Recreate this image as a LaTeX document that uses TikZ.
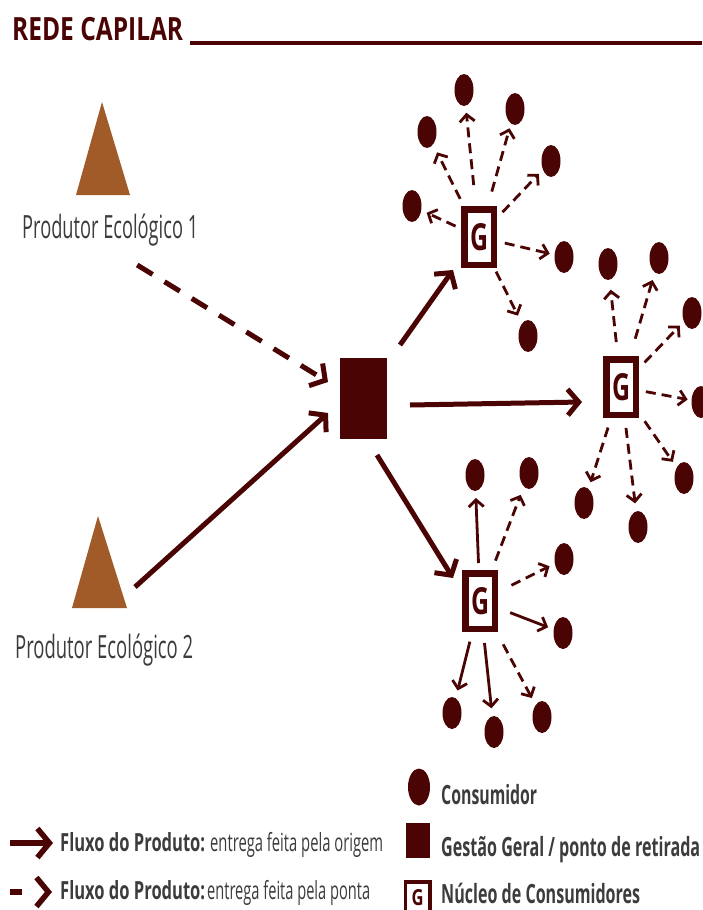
\documentclass[tikz,border=0pt]{standalone}
\usepackage{fontspec}
\usepackage{graphicx}
\setmainfont{Open Sans}
\usetikzlibrary{arrows.meta,shapes.geometric}
\definecolor{capred}{HTML}{4A0404}
\definecolor{prodbrown}{HTML}{A15B28}
\definecolor{labgray}{HTML}{3C3C3C}
% squeeze a text horizontally to a given width (in pt), keeping its height
\newcommand\fitw[2]{\resizebox{#1pt}{\height}{#2}}

\begin{document}
\begin{tikzpicture}[x=1pt,y=-1pt,
  consumer/.style={ellipse, fill=capred, minimum width=19pt, minimum height=32pt, inner sep=0pt, outer sep=0pt},
  gbox/.style={draw=capred, line width=6.5pt, fill=white, minimum width=29.5pt, minimum height=55.5pt, inner sep=0pt, text=capred},
  hubbox/.style={fill=capred, minimum width=47pt, minimum height=81pt, inner sep=0pt, outer sep=0pt},
  producer/.style={fill=prodbrown},
  flow/.style={draw=capred, line width=5pt, -{Straight Barb[length=11pt,width=26pt]}},
  flowdash/.style={flow, dash pattern=on 18pt off 14pt},
  feed/.style={draw=capred, line width=2.8pt, -{Straight Barb[length=7pt,width=15pt]}},
  feeddash/.style={feed, dash pattern=on 10pt off 6pt},
  prodlabel/.style={anchor=base west, inner sep=0pt, text=labgray, font=\fontsize{32}{36}\selectfont},
  legtext/.style={anchor=base west, inner sep=0pt, text=labgray, font=\fontsize{25}{29}\selectfont},
  legbold/.style={legtext, font=\fontsize{25}{29}\selectfont\bfseries},
  keybold/.style={legtext, font=\fontsize{26.5}{30}\selectfont\bfseries},
  legflow/.style={draw=capred, line width=5.5pt, -{Straight Barb[length=12pt,width=29pt]}},
]
\useasboundingbox (0,0) rectangle (702,910);
\fill[white] (0,0) rectangle (702,910);

% title and rule
\node[anchor=base west, inner sep=0pt, text=capred, font=\fontsize{32}{36}\selectfont\bfseries] (title) at (12,40) {\fitw{171}{REDE CAPILAR}};
\coordinate (ruleend) at (702,42.5);
\draw[capred, line width=4pt] ([shift={(7,2.5)}]title.base east) -- (ruleend);

% producers
\fill[producer] (102,102) -- (130,195) -- (76,195) -- cycle;
\node[prodlabel] (lab1) at (22,238) {\fitw{176}{Produtor Ecológico 1}};
\coordinate (tri2) at (127,608);
\fill[producer] (98,516) -- (tri2) -- (72,608) -- cycle;
\node[prodlabel] (lab2) at (15,658) {\fitw{178}{Produtor Ecológico 2}};

% central management point
\node[hubbox] (hub) at (363.5,398.5) {};

% consumer groups
\node[gbox] (g1) at (479,237) {\resizebox{18pt}{27pt}{\bfseries G}};
\node[gbox] (g2) at (621,387) {\resizebox{18pt}{27pt}{\bfseries G}};
\node[gbox] (g3) at (480,601) {\resizebox{18pt}{27pt}{\bfseries G}};

% consumers around group 1
\node[consumer] (c1) at (464,90) {};
\node[consumer] (c2) at (515,109) {};
\node[consumer] (c3) at (427,132) {};
\node[consumer] (c4) at (551,161) {};
\node[consumer] (c5) at (412,206) {};
\node[consumer] (c6) at (564,257) {};
\node[consumer] (c7) at (528,336) {};

% consumers around group 2
\node[consumer] (ca) at (608,264) {};
\node[consumer] (cb) at (659,258) {};
\node[consumer] (cc) at (692,313) {};
\node[consumer] (cd) at (701,402) {};
\node[consumer] (ce) at (684,478) {};
\node[consumer] (cf) at (584,503) {};
\node[consumer] (cg) at (638,527) {};

% consumers around group 3
\node[consumer] (cp) at (475,475) {};
\node[consumer] (cq) at (529,473) {};
\node[consumer] (cs) at (564,559) {};
\node[consumer] (ct) at (563,633) {};
\node[consumer] (cu) at (452,713) {};
\node[consumer] (cv) at (494,732) {};
\node[consumer] (cw) at (542,717) {};

% producers to the management point
\draw[flowdash] ([shift={(27,27)}]lab1.base) -- ([shift={(-12,-16.5)}]hub.west);
\draw[flow] ([shift={(8,-21)}]tri2) -- ([shift={(-12,14.5)}]hub.west);

% management point to the groups
\draw[flow] ([shift={(13,-13)}]hub.north east) -- ([shift={(-8,2)}]g1.south west);
\draw[flow] ([shift={(23,6.5)}]hub.east) -- ([shift={(-21,15)}]g2.west);
\draw[flow] ([shift={(-10,16)}]hub.south east) -- ([shift={(-9,8)}]g3.north west);

% group 1 deliveries
\draw[feeddash, shorten <=21pt, shorten >=7pt] (g1) -- (c1);
\draw[feeddash, shorten <=15pt, shorten >=5pt] (g1) -- (c2);
\draw[feeddash, shorten <=8pt, shorten >=9pt] (g1) -- (c3);
\draw[feeddash, shorten <=8pt, shorten >=6pt] (g1) -- (c4);
\draw[feeddash, shorten <=6pt, shorten >=6pt] (g1) -- (c5);
\draw[feeddash, shorten <=8pt, shorten >=5pt] (g1) -- (c6);
\draw[feeddash, shorten <=4pt, shorten >=9pt] (g1) -- (c7);

% group 2 deliveries
\draw[feeddash, shorten <=14pt, shorten >=10pt] (g2) -- (ca);
\draw[feeddash, shorten <=18pt, shorten >=8pt] (g2) -- (cb);
\draw[feeddash, shorten <=8pt, shorten >=6pt] (g2) -- (cc);
\draw[feeddash, shorten <=7pt, shorten >=4pt] (g2) -- (cd);
\draw[feeddash, shorten <=10pt, shorten >=7pt] (g2) -- (ce);
\draw[feeddash, shorten <=10pt, shorten >=7pt] (g2) -- (cf);
\draw[feeddash, shorten <=10pt, shorten >=8pt] (g2) -- (cg);

% group 3 deliveries
\draw[feed, shorten <=7pt, shorten >=7pt] (g3) -- (cp);
\draw[feeddash, shorten <=10pt, shorten >=9pt] (g3) -- (cq);
\draw[feeddash, shorten <=15pt, shorten >=6pt] (g3) -- (cs);
\draw[feed, shorten <=13pt, shorten >=6pt] (g3) -- (ct);
\draw[feed, shorten <=10pt, shorten >=8pt] (g3) -- (cu);
\draw[feed, shorten <=11pt, shorten >=8pt] (g3) -- (cv);
\draw[feeddash, shorten <=14pt, shorten >=8pt] (g3) -- (cw);

% legend: flows
\coordinate (la1s) at (10,843);
\coordinate (la1e) at (53,843);
\draw[legflow] (la1s) -- (la1e);
\node[legbold] (lf1) at (60,851) {\fitw{145}{Fluxo do Produto:}};
\node[legtext] (lt1) at (210,851) {\fitw{173}{entrega feita pela origem}};
\coordinate (la2s) at (10,892);
\coordinate (la2e) at (52,892);
\draw[legflow, dash pattern=on 12pt off 40pt] (la2s) -- (la2e);
\node[legbold] (lf2) at (60,899) {\fitw{145}{Fluxo do Produto:}};
\node[legtext] (lt2) at (207,899) {\fitw{163}{entrega feita pela ponta}};

% legend: symbols
\node[consumer, minimum width=22pt, minimum height=37pt] (lcons) at (419,787) {};
\node[keybold] (lcons-t) at (441,804) {\fitw{96}{Consumidor}};
\node[hubbox, minimum width=24pt, minimum height=35pt] (lhub) at (418,840) {};
\node[keybold] (lhub-t) at (441,856) {\fitw{259}{Gestão Geral / ponto de retirada}};
\node[gbox, line width=3.5pt, minimum width=24.5pt, minimum height=32.5pt] (lg) at (417.5,898) {\resizebox{12pt}{16pt}{\bfseries G}};
\node[keybold] (lg-t) at (441,903) {\fitw{199}{Núcleo de Consumidores}};
\end{tikzpicture}
\end{document}
